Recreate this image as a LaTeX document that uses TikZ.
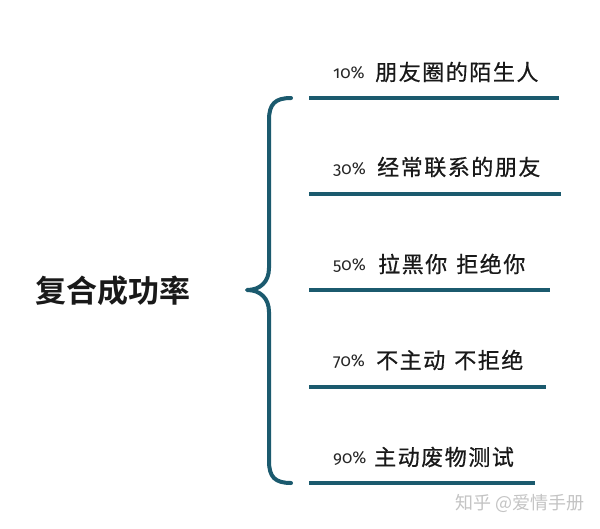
\documentclass[tikz,border=0pt]{standalone}
\usepackage{fontspec}
\newfontfamily\cjk{Noto Sans CJK SC}
\newfontfamily\cjkb{Noto Sans CJK SC Bold}
\newfontfamily\cjkitem[LetterSpace=7,FakeBold=0.6]{Noto Sans CJK SC}
\newfontfamily\pctfont[Numbers=OldStyle]{Fira Sans}
\definecolor{teal}{HTML}{1B5A6E}
\definecolor{wm}{HTML}{C4C4C4}
\begin{document}
\begin{tikzpicture}[x=1pt,y=-1pt,
  bar/.style={draw=teal,line width=3.5pt},
  brace/.style={draw=teal,line width=4pt,line cap=round,line join=round},
  pct/.style={anchor=west,inner sep=0pt,font=\pctfont\fontsize{17}{17}\selectfont,text=black!85},
  item/.style={anchor=west,inner sep=0pt,font=\cjkitem\fontsize{22}{22}\selectfont,text=black!90},
]
\fill[white] (0,0) rectangle (600,528);
\useasboundingbox (0,0) rectangle (600,528);

% title
\node[anchor=west,inner sep=0pt,font=\cjkb\fontsize{31}{31}\selectfont,text=black!90] (title) at (35,291) {复合成功率};

% brace
\coordinate (bt) at (291,98);
\coordinate (bm) at (247,290);
\coordinate (bb) at (291,483);
\draw[brace] (bt) .. controls (275,98) and (269,104) .. (269,120)
  -- (269,268) .. controls (269,282) and (260,290) .. (bm)
  .. controls (260,290) and (269,298) .. (269,312)
  -- (269,461) .. controls (269,477) and (275,483) .. (bb);

% lines
\coordinate (l1a) at (309,98);  \coordinate (l1b) at (559,98);
\coordinate (l2a) at (309,194); \coordinate (l2b) at (561,194);
\coordinate (l3a) at (309,290); \coordinate (l3b) at (550,290);
\coordinate (l4a) at (309,387); \coordinate (l4b) at (546,387);
\coordinate (l5a) at (309,483); \coordinate (l5b) at (535,483);
\draw[bar] (l1a) -- (l1b);
\draw[bar] (l2a) -- (l2b);
\draw[bar] (l3a) -- (l3b);
\draw[bar] (l4a) -- (l4b);
\draw[bar] (l5a) -- (l5b);

% labels
\node[pct] (p1) at (333,73) {10\%};
\node[item] (t1) at (375,72) {朋友圈的陌生人};
\node[pct] (p2) at (333,169) {30\%};
\node[item] (t2) at (377,167) {经常联系的朋友};
\node[pct] (p3) at (333,265) {50\%};
\node[item] (t3) at (378,264) {拉黑你\hspace{9pt}拒绝你};
\node[pct] (p4) at (333,361) {70\%};
\node[item] (t4) at (376,360) {不主动\hspace{9pt}不拒绝};
\node[pct] (p5) at (333,458) {90\%};
\node[item] (t5) at (374,457) {主动废物测试};

% watermark
\node[anchor=west,inner sep=0pt,font=\cjk\fontsize{18}{18}\selectfont,text=wm] (wm) at (455,503) {知乎 @爱情手册};
\end{tikzpicture}
\end{document}
